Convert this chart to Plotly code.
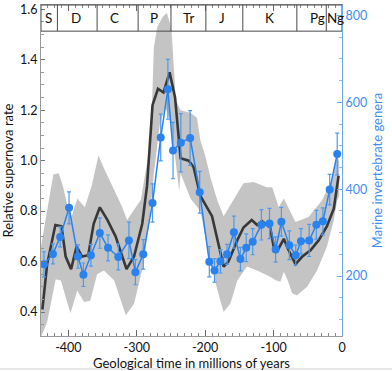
import plotly.graph_objects as go

# ---------------- data ----------------
sn_time = [-438, -431, -419, -410, -404, -396, -388, -380, -371, -363, -354, -343, -331,
           -315, -304, -292, -285, -277, -269, -261, -252, -244, -236, -224, -217, -207,
           -190, -183, -173, -166, -153, -144, -132, -124, -117, -105, -100, -93, -85,
           -78, -68, -58, -46, -34, -22, -12, -5]
sn_rate = [0.41, 0.59, 0.745, 0.74, 0.62, 0.57, 0.66, 0.62, 0.625, 0.75, 0.815, 0.765, 0.70,
           0.57, 0.62, 0.75, 0.90, 1.22, 1.285, 1.27, 1.35, 1.25, 1.01, 1.00, 0.975, 0.86,
           0.78, 0.70, 0.58, 0.60, 0.685, 0.735, 0.765, 0.745, 0.76, 0.735, 0.66, 0.65, 0.69,
           0.645, 0.59, 0.62, 0.645, 0.685, 0.74, 0.81, 0.94]

band_up_time = [-440, -428, -422, -414, -408, -402, -395, -387, -376, -366, -356, -348, -334,
                -322, -314, -305, -294, -282, -278, -275, -270, -262, -256, -252, -249, -243,
                -236, -222, -212, -207, -200, -192, -182, -173, -158, -144, -129, -110, -102,
                -92.5, -85, -75.5, -68, -49, -29, -15, -7, -4]
band_up = [0.66, 0.85, 0.945, 0.95, 0.90, 0.83, 0.78, 0.85, 0.815, 0.90, 1.02, 0.97, 0.89,
           0.82, 0.765, 0.80, 0.845, 1.04, 1.20, 1.45, 1.53, 1.57, 1.585, 1.55, 1.51, 1.24,
           1.20, 1.19, 1.17, 1.08, 1.02, 0.93, 0.84, 0.78, 0.845, 0.91, 0.915, 0.895, 0.895,
           0.815, 0.85, 0.80, 0.757, 0.777, 0.843, 0.923, 1.015, 1.0]

band_lo_time = [-440, -431, -418.5, -411, -397, -387, -377, -368, -358, -348, -333, -316,
                -304, -290, -282, -275, -266, -258, -250, -243, -238, -236, -221.5, -207,
                -197, -182.5, -173, -163, -153, -139, -124, -105, -97, -90, -85, -80, -73,
                -66, -51, -36.5, -22, -12, -7, -4]
band_lo = [0.30, 0.36, 0.53, 0.525, 0.395, 0.485, 0.44, 0.445, 0.55, 0.565, 0.525, 0.387,
           0.433, 0.59, 0.75, 0.95, 1.15, 1.21, 1.15, 1.00, 0.88, 0.95, 0.85, 0.80,
           0.66, 0.49, 0.40, 0.435, 0.525, 0.58, 0.565, 0.54, 0.526, 0.52, 0.56, 0.53, 0.475,
           0.466, 0.50, 0.565, 0.66, 0.764, 0.843, 0.86]

gen_time = [-435.6, -422.5, -412, -399, -386, -378, -367, -354, -342, -327, -311.5, -302,
            -290.5, -277, -265, -254.5, -247, -235.6, -222, -208, -194, -186.4, -177.7,
            -168, -158, -148.5, -140, -130.5, -117.8, -106, -97, -88.6, -77, -67.7, -60,
            -48, -37.5, -28, -18, -7]
gen_val = [227, 251, 290, 357, 245, 203, 248, 299, 265, 244, 282, 209,
           250, 368, 519, 630, 489, 507, 518, 393, 233, 213, 234,
           250, 301, 239, 265, 279, 318, 321, 261, 325, 271, 248, 280,
           282, 318, 326, 399, 481]
gen_err = [29, 23, 23, 37, 27, 27, 25, 35, 30, 30, 42, 29,
           34, 44, 54, 69, 65, 67, 63, 48, 35, 27, 27,
           23, 37, 27, 32, 30, 35, 35, 29, 33, 33, 23, 29,
           37, 33, 31, 35, 48]

period_names = ["S", "D", "C", "P", "Tr", "J", "K", "Pg", "Ng"]
period_bounds = [-440, -416, -358, -298, -250, -199, -145, -66, -23, 0]
period_label_x = [-429, -389, -332, -275, -224, -176, -106, -36, -10]

x_tickvals = [-400, -300, -200, -100, 0]
x_ticktext = ["-400", "-300", "-200", "-100", "0"]

BLUE = "#2a82ee"
BLUE_TXT = "#3d8ff0"
FONT = "Lato"

fig = go.Figure()

# gray uncertainty band
fig.add_trace(go.Scatter(
    x=band_up_time + band_lo_time[::-1],
    y=band_up + band_lo[::-1],
    fill="toself", fillcolor="#c4c4c4", line=dict(width=0),
    mode="lines", hoverinfo="skip", showlegend=False, yaxis="y"))

# supernova rate line
fig.add_trace(go.Scatter(
    x=sn_time, y=sn_rate, mode="lines",
    line=dict(color="#383838", width=2.6), showlegend=False, yaxis="y"))

# marine genera
fig.add_trace(go.Scatter(
    x=gen_time, y=gen_val, mode="lines+markers",
    line=dict(color=BLUE, width=1.5),
    marker=dict(color=BLUE, size=8),
    error_y=dict(type="data", array=gen_err, color="#4d9aec", thickness=1.2, width=2),
    showlegend=False, yaxis="y2"))

shapes = []
# period strip
shapes.append(dict(type="rect", xref="x", yref="paper", x0=-440, x1=0, y0=0.921, y1=1.0,
                   line=dict(color="#4a4a4a", width=1), fillcolor="rgba(0,0,0,0)", layer="above"))
for b in period_bounds[1:-1]:
    shapes.append(dict(type="line", xref="x", yref="paper", x0=b, x1=b, y0=0.921, y1=1.0,
                       line=dict(color="#4a4a4a", width=1), layer="above"))
# faint image border line at bottom
shapes.append(dict(type="line", xref="paper", yref="paper", x0=-0.14, x1=1.17, y0=-0.0997, y1=-0.0997,
                   line=dict(color="#cfcfcf", width=1)))

annotations = []
for name, lx in zip(period_names, period_label_x):
    annotations.append(dict(x=lx, y=0.9605, xref="x", yref="paper", text=name, showarrow=False,
                            font=dict(family=FONT, size=13.5, color="#111"), xanchor="center", yanchor="middle"))

fig.update_layout(
    width=392, height=371,
    margin=dict(l=41, r=50, t=5, b=35, autoexpand=False),
    paper_bgcolor="white", plot_bgcolor="white",
    font=dict(family=FONT, size=12.5, color="#111"),
    shapes=shapes, annotations=annotations,
    xaxis=dict(range=[-440, 0], tickvals=x_tickvals, ticktext=x_ticktext,
               showgrid=False, zeroline=False, showline=True, linecolor="#999", linewidth=1,
               mirror="ticks", ticks="inside", ticklen=6, tickcolor="#666",
               minor=dict(dtick=10, ticks="inside", ticklen=3, tickcolor="#888"),
               title=dict(text="Geological time in millions of years", font=dict(size=13), standoff=3),
               tickfont=dict(size=12.5)),
    yaxis=dict(range=[0.305, 1.617], tickvals=[0.4, 0.6, 0.8, 1.0, 1.2, 1.4, 1.6],
               ticktext=["0.4", "0.6", "0.8", "1.0", "1.2", "1.4", "1.6"],
               showgrid=False, zeroline=False, showline=True, linecolor="#999", linewidth=1,
               ticks="inside", ticklen=4, tickcolor="#777",
               minor=dict(dtick=0.05, ticks="inside", ticklen=3, tickcolor="#999"),
               title=dict(text="Relative supernova rate", font=dict(size=13), standoff=6)),
    yaxis2=dict(range=[62, 824], overlaying="y", side="right",
                tickvals=[200, 400, 600, 800], showgrid=False, zeroline=False,
                showline=True, linecolor="#6aa8f0", linewidth=1,
                ticks="inside", ticklen=5, tickcolor="#6aa8f0",
                minor=dict(dtick=50, ticks="inside", ticklen=3, tickcolor="#8dbcf3"),
                tickfont=dict(color=BLUE_TXT, size=12.5),
                title=dict(text="Marine invertebrate genera", font=dict(color=BLUE_TXT, size=13), standoff=6)),
)

fig.write_html("out.html", config={"displayModeBar": False},
               post_script="document.body.style.margin='0';document.body.style.padding='0';")
